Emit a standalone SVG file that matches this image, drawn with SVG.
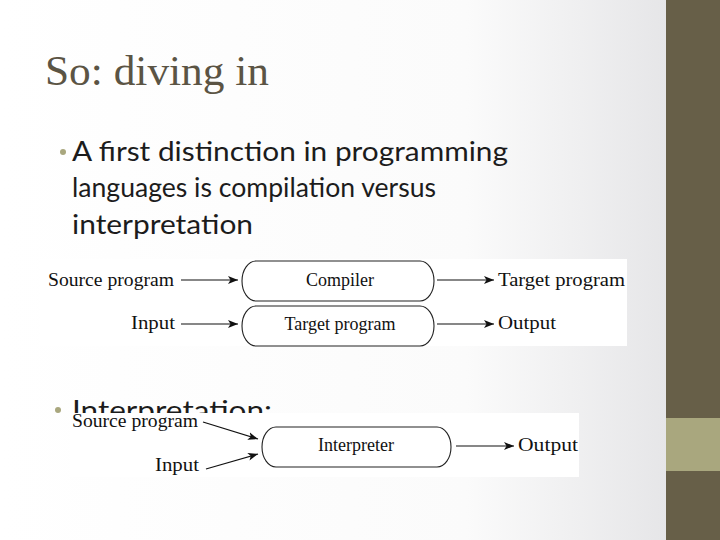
<svg xmlns="http://www.w3.org/2000/svg" width="720" height="540" viewBox="0 0 720 540">
<style>
.title{font-family:"Liberation Serif","DejaVu Serif",serif;font-size:43px;fill:#5b5444}
.body{font-family:Lato,"Open Sans","Liberation Sans",sans-serif;font-size:27px;fill:#1c1c1c}
.lbl{font-family:"Liberation Serif","DejaVu Serif",serif;font-size:18px;fill:#111}
.box{fill:#fff;stroke:#222;stroke-width:1.1}
.conn{stroke:#111;stroke-width:1.2;fill:none;marker-end:url(#ah)}
</style>
<defs>
<linearGradient id="bg" x1="0" y1="0" x2="1" y2="0">
<stop offset="0" stop-color="#ffffff"/>
<stop offset="0.7" stop-color="#fbfbfb"/>
<stop offset="1" stop-color="#e6e6e8"/>
</linearGradient>
<marker id="ah" viewBox="0 0 10 10" refX="10" refY="5" markerWidth="10" markerHeight="10" markerUnits="userSpaceOnUse" orient="auto">
<path d="M0,1 L10,5 L0,9 L2.5,5 Z" fill="#111"/>
</marker>
</defs>
<rect x="0" y="0" width="666" height="540" fill="url(#bg)"/>
<rect x="666" y="0" width="54" height="540" fill="#675f48"/>
<rect x="666" y="418" width="54" height="53" fill="#a9a77e"/>

<text class="title" x="45" y="85" textLength="224" lengthAdjust="spacingAndGlyphs">So: diving in</text>
<circle cx="63" cy="152" r="3" fill="#a9a77e"/>
<text class="body" x="72" y="161" textLength="436" lengthAdjust="spacingAndGlyphs">A first distinction in programming</text>
<text class="body" x="72" y="197" textLength="364" lengthAdjust="spacingAndGlyphs">languages is compilation versus</text>
<text class="body" x="72" y="234" textLength="181" lengthAdjust="spacingAndGlyphs">interpretation</text>
<circle cx="58" cy="410" r="3" fill="#a9a77e"/>
<text class="body" x="72" y="420" textLength="200" lengthAdjust="spacingAndGlyphs">Interpretation:</text>

<!-- compilation picture -->
<rect x="40" y="259" width="587" height="87" fill="#fff"/>
<!-- interpretation picture -->
<rect x="70" y="413" width="509" height="64" fill="#fff"/>

<g id="connectors">
<line class="conn" x1="181" y1="280" x2="238" y2="280"/>
<line class="conn" x1="437" y1="280" x2="494" y2="280"/>
<line class="conn" x1="181" y1="324" x2="238" y2="324"/>
<line class="conn" x1="437" y1="324" x2="494" y2="324"/>
<line class="conn" x1="203" y1="422" x2="258" y2="439"/>
<line class="conn" x1="206" y1="469" x2="258" y2="454"/>
<line class="conn" x1="456" y1="446" x2="514" y2="446"/>
</g>

<g id="src1"><text class="lbl" x="48" y="286" textLength="126" lengthAdjust="spacingAndGlyphs">Source program</text></g>
<g id="compiler">
<rect class="box" x="242" y="261" width="192" height="40" rx="14" ry="20"/>
<text class="lbl" x="340" y="286" text-anchor="middle">Compiler</text>
</g>
<g id="target1"><text class="lbl" x="498" y="286" textLength="127" lengthAdjust="spacingAndGlyphs">Target program</text></g>
<g id="input1"><text class="lbl" x="131" y="329" textLength="44" lengthAdjust="spacingAndGlyphs">Input</text></g>
<g id="targetprog">
<rect class="box" x="242" y="306" width="192" height="40" rx="14" ry="20"/>
<text class="lbl" x="340" y="330" text-anchor="middle">Target program</text>
</g>
<g id="output1"><text class="lbl" x="498" y="329" textLength="58" lengthAdjust="spacingAndGlyphs">Output</text></g>

<g id="src2"><text class="lbl" x="72" y="427" textLength="126" lengthAdjust="spacingAndGlyphs">Source program</text></g>
<g id="input2"><text class="lbl" x="155" y="471" textLength="44" lengthAdjust="spacingAndGlyphs">Input</text></g>
<g id="interpreter">
<rect class="box" x="262" y="427" width="189" height="40" rx="14" ry="20"/>
<text class="lbl" x="356" y="451" text-anchor="middle">Interpreter</text>
</g>
<g id="output2"><text class="lbl" x="518" y="451" textLength="60" lengthAdjust="spacingAndGlyphs">Output</text></g>
</svg>
